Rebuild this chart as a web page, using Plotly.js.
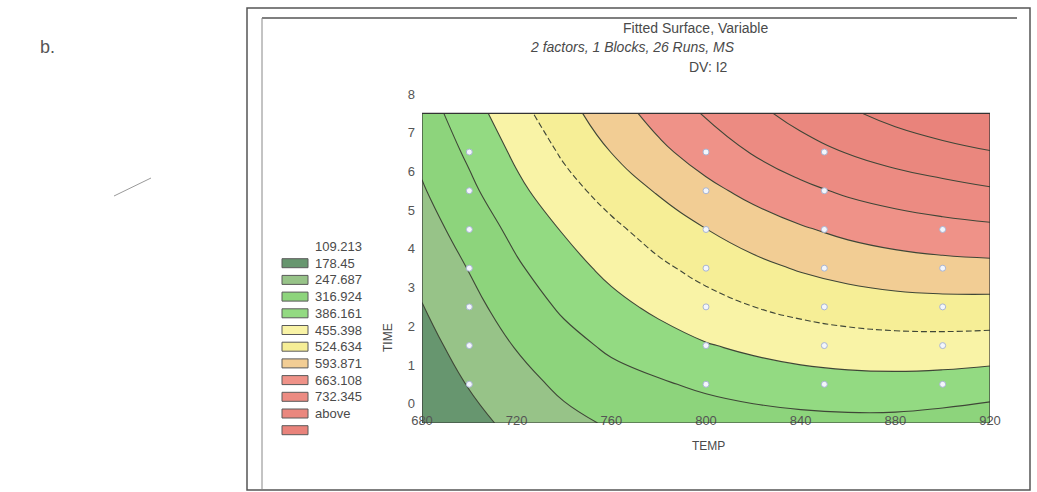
<!DOCTYPE html>
<html>
<head>
<meta charset="utf-8">
<script src="https://cdn.plot.ly/plotly-3.0.1.min.js"></script>
<style>
  html, body { margin: 0; padding: 0; background: #ffffff; }
  #chart { width: 1037px; height: 492px; }
</style>
</head>
<body>
<div id="chart"></div>
<script>
// Fitted response surface of I2 over TEMP x TIME
const temp = [680, 700, 720, 740, 760, 780, 800, 820, 840, 860, 880, 900, 920];
const time = [-0.5, 0.5, 1.5, 2.5, 3.5, 4.5, 5.5, 6.5, 7.5];
const i2 = [
  [48.0, 90.0, 126.0, 160.0, 186.0, 201.0, 211.0, 219.0, 226.0, 230.0, 229.0, 220.0, 207.0],
  [67.6, 112.6, 154.1, 193.0, 220.6, 240.0, 259.5, 276.5, 288.6, 294.6, 295.6, 291.1, 281.5],
  [87.1, 135.6, 182.6, 224.6, 259.6, 286.0, 312.6, 331.1, 345.1, 354.6, 359.6, 360.1, 356.3],
  [106.7, 158.2, 211.2, 258.2, 297.2, 331.2, 361.2, 385.7, 405.2, 419.7, 428.7, 432.2, 431.3],
  [128.4, 181.4, 238.8, 290.3, 334.3, 373.3, 407.8, 437.0, 461.3, 480.3, 493.5, 501.5, 505.5],
  [150.4, 206.4, 266.4, 322.4, 371.4, 415.4, 454.4, 488.4, 517.4, 540.9, 558.4, 570.9, 579.7],
  [172.5, 233.5, 300.5, 361.5, 413.0, 462.0, 506.5, 544.5, 577.5, 604.5, 624.5, 640.5, 655.5],
  [193.4, 259.4, 330.4, 396.4, 456.4, 509.4, 556.4, 598.4, 635.4, 666.4, 691.4, 711.4, 729.4],
  [214.0, 287.0, 362.0, 431.0, 493.0, 549.0, 600.0, 646.0, 687.0, 723.0, 754.0, 781.0, 803.4]
];

// Design runs (26 runs)
const runTemp = [700, 700, 700, 700, 700, 700, 700,
                 800, 800, 800, 800, 800, 800, 800,
                 850, 850, 850, 850, 850, 850, 850,
                 900, 900, 900, 900, 900];
const runTime = [0.5, 1.5, 2.5, 3.5, 4.5, 5.5, 6.5,
                 0.5, 1.5, 2.5, 3.5, 4.5, 5.5, 6.5,
                 0.5, 1.5, 2.5, 3.5, 4.5, 5.5, 6.5,
                 0.5, 1.5, 2.5, 3.5, 4.5];

// Contour levels and legend entries
const levelStart = 109.213;
const levelStep = 69.2369;
const levelLabels = ["109.213", "178.45", "247.687", "316.924", "386.161",
                     "455.398", "524.634", "593.871", "663.108", "732.345", "above"];
const bandColors = ["#67966f", "#97c388", "#8dd47c", "#93da82", "#f9f3a6",
                    "#f6ee96", "#f2cd94", "#ef9288", "#ec8b82", "#ea877e", "#e9837b"];

const titleLines = ["Fitted Surface, Variable", "2 factors, 1 Blocks, 26 Runs, MS", "DV: I2"];

const tempTicks = [680, 720, 760, 800, 840, 880, 920];
const timeTicks = [0, 1, 2, 3, 4, 5, 6, 7, 8];

// ---- geometry of the plot area in page pixels ----
const W = 1037, H = 492;
const PL = 422, PR = 990, PT = 94, PB = 423;
const px = x => (x - PL) / (PR - PL);
const py = y => (PB - y) / (PB - PT);

// discrete colour scale: band k is sampled at k/10
const nb = bandColors.length;
const colorscale = [];
bandColors.forEach((c, k) => {
  const lo = Math.max(0, (k - 0.5) / (nb - 1));
  const hi = Math.min(1, (k + 0.5) / (nb - 1));
  colorscale.push([lo, c]);
  colorscale.push([hi, c]);
});

const lineColor = "#3f4637";
const fontFam = "Liberation Sans, Arial, Helvetica, sans-serif";

function lineTrace(firstIdx, count, dash) {
  return {
    type: "contour", x: temp, y: time, z: i2,
    autocontour: false,
    contours: {
      start: levelStart + firstIdx * levelStep,
      end: levelStart + (firstIdx + count - 0.5) * levelStep,
      size: levelStep,
      coloring: "none"
    },
    line: { color: lineColor, width: 1.1, dash: dash, smoothing: 1.3 },
    showscale: false, hoverinfo: "skip"
  };
}

const traces = [
  {
    type: "contour", x: temp, y: time, z: i2,
    autocontour: false,
    contours: {
      start: levelStart,
      end: levelStart + 9.5 * levelStep,
      size: levelStep,
      coloring: "fill",
      showlines: false
    },
    colorscale: colorscale,
    line: { width: 0, smoothing: 1.3 },
    showscale: false, hoverinfo: "skip"
  },
  lineTrace(0, 4, "solid"),
  lineTrace(4, 1, "6px,3px"),
  lineTrace(5, 5, "solid"),
  {
    type: "scatter", mode: "markers", x: runTemp, y: runTime,
    marker: { size: 6, color: "#f3f6fc", line: { color: "#a9b5d2", width: 1 } },
    hoverinfo: "skip", cliponaxis: false
  }
];

const textColor = "#4a4a4a";
const annotations = [];
const shapes = [];

// titles
const titleY = [28, 47, 67];
const titleX = [695, 632, 708];
titleLines.forEach((t, i) => {
  annotations.push({
    xref: "paper", yref: "paper", x: px(titleX[i]), y: py(titleY[i]),
    xanchor: "center", yanchor: "middle", showarrow: false, text: t,
    font: { family: fontFam, size: 14, color: textColor, style: i === 1 ? "italic" : "normal" }
  });
});

// axis titles
annotations.push({
  xref: "paper", yref: "paper", x: px(388), y: py(338), textangle: -90,
  xanchor: "center", yanchor: "middle", showarrow: false, text: "TIME",
  font: { family: fontFam, size: 12, color: textColor }
});
annotations.push({
  xref: "paper", yref: "paper", x: px(708), y: py(446),
  xanchor: "center", yanchor: "middle", showarrow: false, text: "TEMP",
  font: { family: fontFam, size: 12, color: textColor }
});

// panel letter
annotations.push({
  xref: "paper", yref: "paper", x: px(38), y: py(47),
  xanchor: "left", yanchor: "middle", showarrow: false, text: "b.",
  font: { family: fontFam, size: 18, color: "#555555" }
});

// legend: level labels with colour boxes one row below
const rowY0 = 246.5, rowStep = 16.7;
levelLabels.forEach((lab, i) => {
  annotations.push({
    xref: "paper", yref: "paper", x: px(313), y: py(rowY0 + i * rowStep),
    xanchor: "left", yanchor: "middle", showarrow: false, text: lab,
    font: { family: fontFam, size: 13, color: textColor }
  });
});
bandColors.forEach((c, i) => {
  const yc = rowY0 + (i + 1) * rowStep;
  shapes.push({
    type: "rect", xref: "paper", yref: "paper",
    x0: px(282), x1: px(308), y0: py(yc + 4.5), y1: py(yc - 4.5),
    fillcolor: c, line: { color: "#5a5a5a", width: 1 }
  });
});

// border of the surface area
shapes.push({
  type: "rect", xref: "x", yref: "y", x0: 680, x1: 920, y0: -0.5, y1: 7.5,
  line: { color: "#333333", width: 1.2 }, layer: "above"
});

// graph window frame
const frameColor = "#555555";
shapes.push({
  type: "rect", xref: "paper", yref: "paper",
  x0: px(247), x1: px(1030), y0: py(490), y1: py(8),
  line: { color: frameColor, width: 1.5 }
});
shapes.push({
  type: "line", xref: "paper", yref: "paper",
  x0: px(262), x1: px(1017), y0: py(18), y1: py(18),
  line: { color: frameColor, width: 1.5 }
});
shapes.push({
  type: "line", xref: "paper", yref: "paper",
  x0: px(262), x1: px(262), y0: py(18), y1: py(489),
  line: { color: "#888888", width: 1 }
});
// stray pencil stroke in the margin
shapes.push({
  type: "line", xref: "paper", yref: "paper",
  x0: px(114), x1: px(151), y0: py(196), y1: py(178),
  line: { color: "#9a9a9a", width: 1 }
});

const layout = {
  width: W, height: H,
  margin: { l: PL, r: W - PR, t: PT, b: H - PB, pad: 0 },
  paper_bgcolor: "#ffffff", plot_bgcolor: "#ffffff",
  showlegend: false, hovermode: false,
  font: { family: fontFam, color: textColor },
  xaxis: {
    range: [680, 920], tickvals: tempTicks, ticktext: tempTicks.map(String),
    showgrid: false, zeroline: false, showline: false, ticks: "",
    ticklabelstandoff: -12,
    tickfont: { family: fontFam, size: 13, color: "#555555" }
  },
  yaxis: {
    range: [-0.5, 8], tickvals: timeTicks, ticktext: timeTicks.map(String),
    showgrid: false, zeroline: false, showline: false, ticks: "",
    ticklabelstandoff: 6,
    tickfont: { family: fontFam, size: 13, color: "#555555" }
  },
  annotations: annotations,
  shapes: shapes
};

Plotly.newPlot("chart", traces, layout, { staticPlot: true, displayModeBar: false });
</script>
</body>
</html>
